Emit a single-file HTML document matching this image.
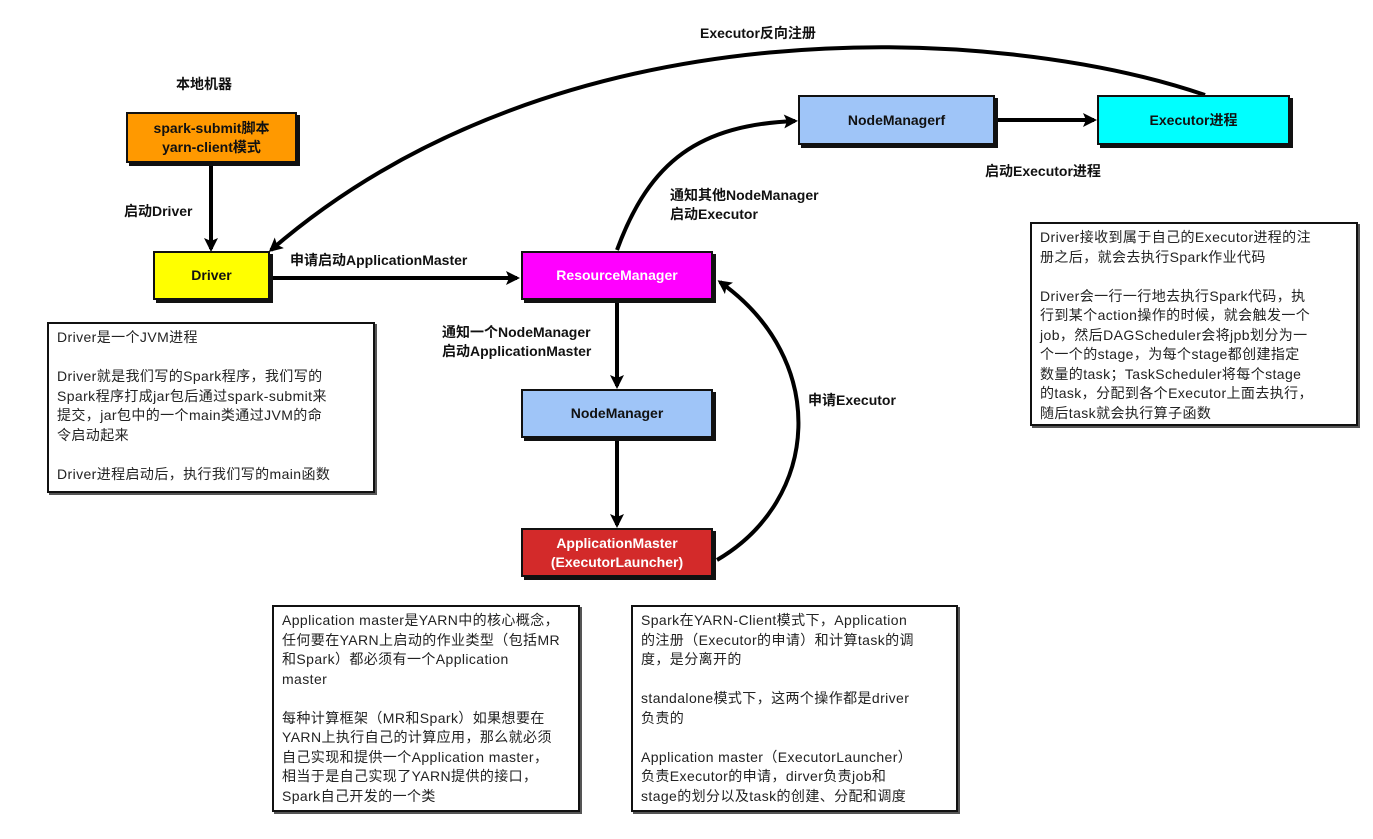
<!DOCTYPE html>
<html><head><meta charset="utf-8"><style>
body{margin:0;width:1373px;height:839px;background:#fff;position:relative;overflow:hidden;font-family:"Liberation Sans","Noto Sans CJK SC",sans-serif;color:#111}
.b{position:absolute;border:2px solid #111;box-shadow:3px 3px 0 #111;display:flex;align-items:center;justify-content:center;text-align:center;font-weight:bold;font-size:14px;line-height:19px;box-sizing:border-box}
.l{position:absolute;font-weight:bold;font-size:14px;line-height:18px;white-space:nowrap}
.t{position:absolute;border:2px solid #111;box-shadow:2px 2px 0 #555;font-size:14px;line-height:19.5px;padding:4px 8px;box-sizing:border-box;color:#222;white-space:nowrap;letter-spacing:0.4px}
svg{position:absolute;left:0;top:0}
</style></head><body>
<svg width="1373" height="839" viewBox="0 0 1373 839">
<defs><marker id="a" markerWidth="14" markerHeight="14" refX="11" refY="7" orient="auto" markerUnits="userSpaceOnUse"><path d="M0,0 L14,7 L0,14 L3,7 z" fill="#000"/></marker></defs>
<g stroke="#000" stroke-width="4" fill="none" marker-end="url(#a)">
<line x1="211" y1="164" x2="211" y2="249"/>
<line x1="271" y1="278" x2="517" y2="278"/>
<line x1="617" y1="302" x2="617" y2="386"/>
<line x1="617" y1="440" x2="617" y2="525"/>
<line x1="996" y1="120" x2="1094" y2="120"/>
<path d="M717,560 C820,500 830,360 720,282"/>
<path d="M617,250 C650,160 700,125 795,121"/>
<path d="M1205,95 C1000,25 560,0 271,250"/>
</g>
</svg>
<div class="l" style="left:176px;top:75px">本地机器</div>
<div class="b" style="left:126px;top:112px;width:171px;height:51px;background:#ff9900">spark-submit脚本<br>yarn-client模式</div>
<div class="l" style="left:124px;top:202px">启动Driver</div>
<div class="b" style="left:153px;top:251px;width:117px;height:49px;background:#ffff00">Driver</div>
<div class="l" style="left:290px;top:251px">申请启动ApplicationMaster</div>
<div class="b" style="left:521px;top:251px;width:192px;height:49px;background:#ff00ff;color:#fff">ResourceManager</div>
<div class="l" style="left:442px;top:323px;line-height:19px">通知一个NodeManager<br>启动ApplicationMaster</div>
<div class="b" style="left:521px;top:389px;width:192px;height:49px;background:#9fc5f8">NodeManager</div>
<div class="b" style="left:521px;top:528px;width:192px;height:49px;background:#d32a2a;color:#fff">ApplicationMaster<br>(ExecutorLauncher)</div>
<div class="l" style="left:808px;top:391px">申请Executor</div>
<div class="l" style="left:670px;top:186px;line-height:19px">通知其他NodeManager<br>启动Executor</div>
<div class="b" style="left:798px;top:95px;width:197px;height:50px;background:#9fc5f8">NodeManagerf</div>
<div class="b" style="left:1097px;top:95px;width:193px;height:50px;background:#00ffff">Executor进程</div>
<div class="l" style="left:985px;top:162px">启动Executor进程</div>
<div class="l" style="left:700px;top:24px">Executor反向注册</div>
<div class="t" style="left:47px;top:322px;width:328px;height:171px">Driver是一个JVM进程<br><br>Driver就是我们写的Spark程序，我们写的<br>Spark程序打成jar包后通过spark-submit来<br>提交，jar包中的一个main类通过JVM的命<br>令启动起来<br><br>Driver进程启动后，执行我们写的main函数</div>
<div class="t" style="left:1030px;top:222px;width:328px;height:204px">Driver接收到属于自己的Executor进程的注<br>册之后，就会去执行Spark作业代码<br><br>Driver会一行一行地去执行Spark代码，执<br>行到某个action操作的时候，就会触发一个<br>job，然后DAGScheduler会将jpb划分为一<br>个一个的stage，为每个stage都创建指定<br>数量的task；TaskScheduler将每个stage<br>的task，分配到各个Executor上面去执行，<br>随后task就会执行算子函数</div>
<div class="t" style="left:272px;top:605px;width:308px;height:207px">Application master是YARN中的核心概念，<br>任何要在YARN上启动的作业类型（包括MR<br>和Spark）都必须有一个Application<br>master<br><br>每种计算框架（MR和Spark）如果想要在<br>YARN上执行自己的计算应用，那么就必须<br>自己实现和提供一个Application master，<br>相当于是自己实现了YARN提供的接口，<br>Spark自己开发的一个类</div>
<div class="t" style="left:631px;top:605px;width:327px;height:207px">Spark在YARN-Client模式下，Application<br>的注册（Executor的申请）和计算task的调<br>度，是分离开的<br><br>standalone模式下，这两个操作都是driver<br>负责的<br><br>Application master（ExecutorLauncher）<br>负责Executor的申请，dirver负责job和<br>stage的划分以及task的创建、分配和调度</div>
</body></html>
